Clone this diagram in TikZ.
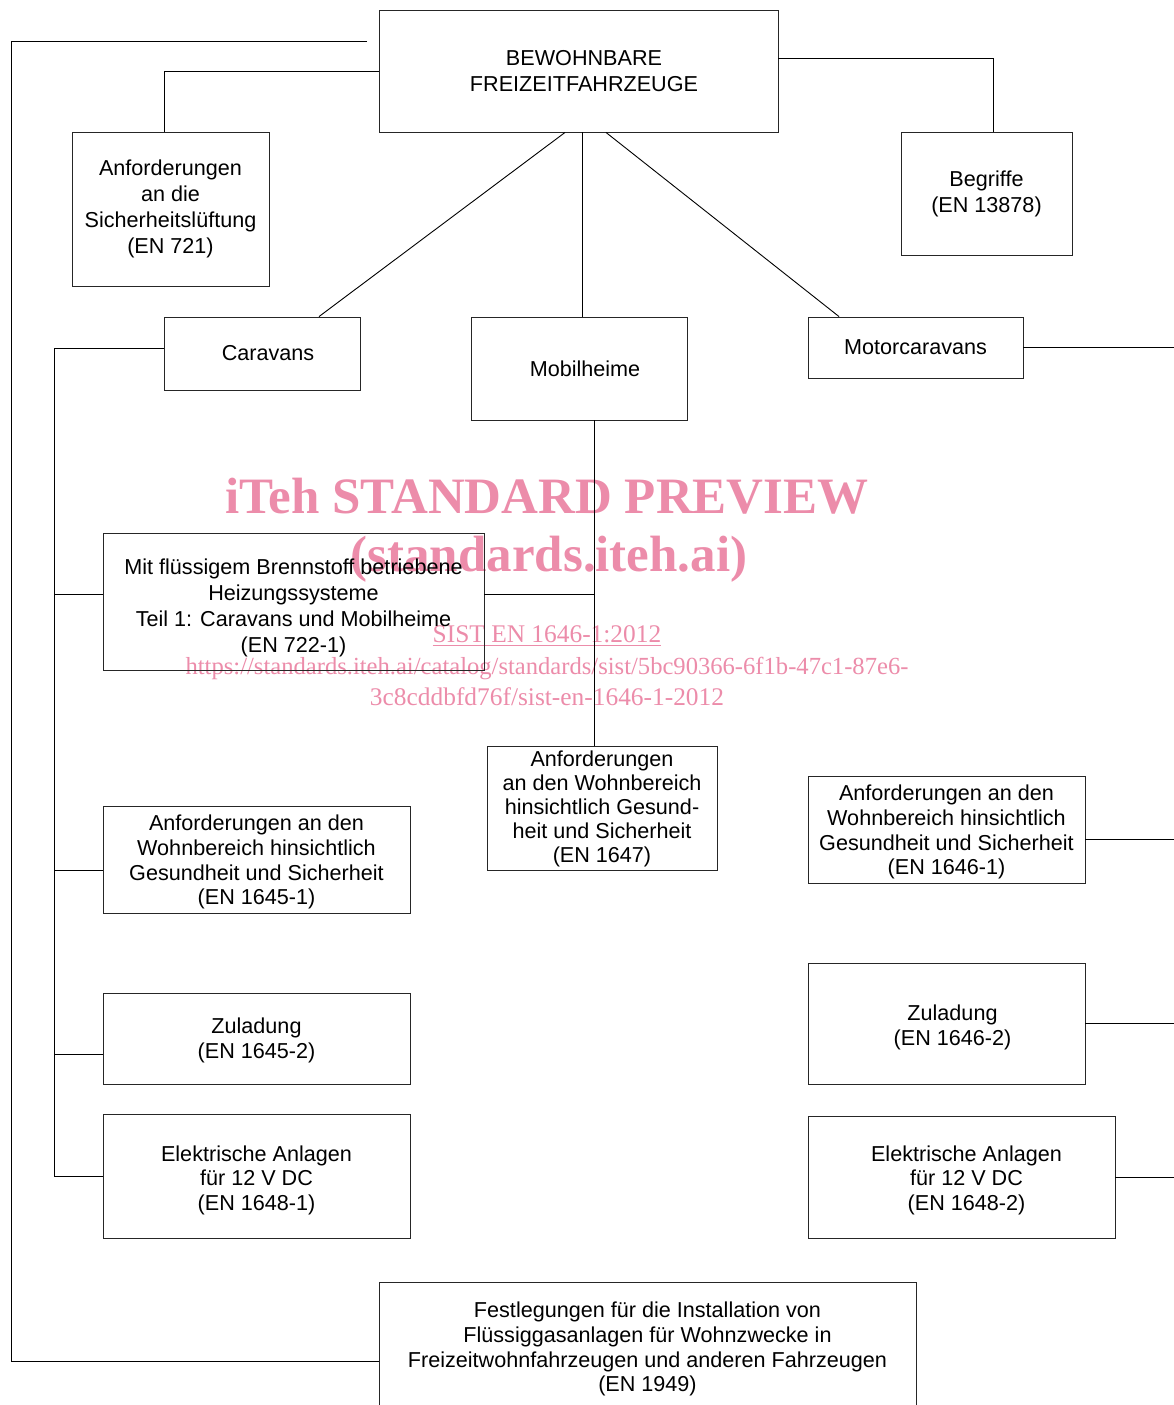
\documentclass[tikz,border=0pt]{standalone}
\usepackage{fontspec}
\setmainfont{Liberation Sans}
\newfontfamily\wmfont{Liberation Serif}
\usetikzlibrary{positioning,calc}
\definecolor{wmpink}{RGB}{236,140,170}
\newcommand{\dn}[1]{\rule{0pt}{#1}}

\begin{document}
\begin{tikzpicture}[x=0.5pt, y=-0.5pt, line width=0.45pt]
	\tikzstyle{every node}=[font=\fontsize{10.8}{12.3}\selectfont]
	\tikzstyle{box}=[draw=black!85, align=center, inner sep=2pt]
	\tikzstyle{wm}=[text=wmpink, font=\wmfont\fontsize{12.7}{15}\selectfont, anchor=base, inner sep=0pt]
	\tikzstyle{wmbig}=[wm, font=\wmfont\bfseries\fontsize{25.5}{30}\selectfont]
	\clip (0,0) rectangle (1174,1405);

	\node[wmbig] (wm1) at (547,513) {iTeh STANDARD PREVIEW};
	\node[wmbig] (wm2) at (549,571) {(standards.iteh.ai)};
	\node[wm] (wm3) at (547,642) {\underline{SIST EN 1646-1:2012}};
	\node[wm, font=\wmfont\fontsize{12.3}{15}\selectfont] (wm4) at (547,674) {https://standards.iteh.ai/catalog/standards/sist/5bc90366-6f1b-47c1-87e6-};
	\node[wm] (wm5) at (547,705) {3c8cddbfd76f/sist-en-1646-1-2012};

	\node[box, minimum width=199.5pt, minimum height=61pt, font=\fontsize{10.8}{13}\selectfont] (top) at (578.5,71) {\hspace*{5.5pt}BEWOHNBARE\\\hspace*{5.5pt}FREIZEITFAHRZEUGE};
	\node[box, minimum width=98.5pt, minimum height=77pt, font=\fontsize{10.8}{13}\selectfont] (sicher) at (170.5,209) {Anforderungen\\an die\\Sicherheitslüftung\\(EN 721)};
	\node[box, minimum width=85.5pt, minimum height=61.5pt, font=\fontsize{10.8}{13}\selectfont] (begr) at (986.5,193.5) {Begriffe\\(EN 13878)};
	\node[box, minimum width=98pt, minimum height=36.5pt] (car) at (262,353.5) {\hspace*{6pt}Caravans};
	\node[box, minimum width=108pt, minimum height=51.5pt] (mob) at (579,368.5) {\hspace*{6pt}Mobilheime};
	\node[box, minimum width=107.5pt, minimum height=30.5pt] (mot) at (915.5,347.5) {Motorcaravans};
	\node[box, minimum width=190.5pt, minimum height=68.5pt, font=\fontsize{10.8}{13}\selectfont] (heiz) at (293.5,601.5) {\dn{14pt}Mit flüssigem Brennstoff betriebene\\Heizungssysteme\\Teil 1: Caravans und Mobilheime\\(EN 722-1)};
	\node[box, minimum width=115pt, minimum height=61.5pt, font=\fontsize{10.8}{12}\selectfont] (wmob) at (602,808.5) {Anforderungen\\an den Wohnbereich\\hinsichtlich Gesund-\\heit und Sicherheit\\(EN 1647)};
	\node[box, minimum width=153.5pt, minimum height=52pt] (wcar) at (256.5,860) {\dn{10pt}Anforderungen an den\\Wohnbereich hinsichtlich\\Gesundheit und Sicherheit\\(EN 1645-1)};
	\node[box, minimum width=138.5pt, minimum height=52pt] (wmot) at (946.5,830) {\dn{10pt}Anforderungen an den\\Wohnbereich hinsichtlich\\Gesundheit und Sicherheit\\(EN 1646-1)};
	\node[box, minimum width=153.5pt, minimum height=45.5pt] (zcar) at (256.5,1038.5) {\dn{10pt}Zuladung\\(EN 1645-2)};
	\node[box, minimum width=138.5pt, minimum height=60.5pt] (zmot) at (946.5,1023.5) {\dn{11.7pt}\hspace*{6pt}Zuladung\\\hspace*{6pt}(EN 1646-2)};
	\node[box, minimum width=153.5pt, minimum height=62pt] (ecar) at (256.5,1176) {\dn{12pt}Elektrische Anlagen\\für 12 V DC\\(EN 1648-1)};
	\node[box, minimum width=153.5pt, minimum height=61pt] (emot) at (961.5,1177) {\dn{11pt}\hspace*{5pt}Elektrische Anlagen\\\hspace*{5pt}für 12 V DC\\\hspace*{5pt}(EN 1648-2)};
	\node[box, minimum width=268.5pt, minimum height=64pt] (festl) at (647.5,1346) {\dn{11pt}Festlegungen für die Installation von\\Flüssiggasanlagen für Wohnzwecke in\\Freizeitwohnfahrzeugen und anderen Fahrzeugen\\(EN 1949)};

	\coordinate (loop) at (367,41);
	\coordinate (cspine) at (54,348);
	\coordinate (rspine) at (1174,348);

	\draw (top.west) -| ([xshift=-3.25pt]sicher.north);
	\draw ([yshift=6.5pt]top.east) -| ([xshift=3.25pt]begr.north);
	\draw ([xshift=-6.75pt]top.south) -- ([xshift=28.5pt]car.north);
	\draw ([xshift=1.75pt]top.south) -- ([xshift=1.5pt]mob.north);
	\draw ([xshift=13.75pt]top.south) -- ([xshift=-38.25pt]mot.north);
	\draw (loop) -- (11,41) |- ([yshift=-7.5pt]festl.west);

	\draw ([yshift=2.75pt]car.west) -- (cspine) |- (ecar.west);
	\draw ([yshift=3.75pt]heiz.west) -| (cspine);
	\draw ([yshift=-5pt]wcar.west) -| (cspine);
	\draw ([yshift=-7.75pt]zcar.west) -| (cspine);

	\draw ([xshift=7.5pt]mob.south) -- ([xshift=-4pt]wmob.north);
	\draw ([yshift=3.75pt]heiz.east) -| ([xshift=7.5pt]mob.south);

	\draw (mot.east) -- (mot.east -| rspine);
	\draw ([yshift=-4.5pt]wmot.east) -- ([yshift=-4.5pt]wmot.east -| rspine);
	\draw (zmot.east) -- (zmot.east -| rspine);
	\draw (emot.east) -- (emot.east -| rspine);
\end{tikzpicture}
\end{document}
